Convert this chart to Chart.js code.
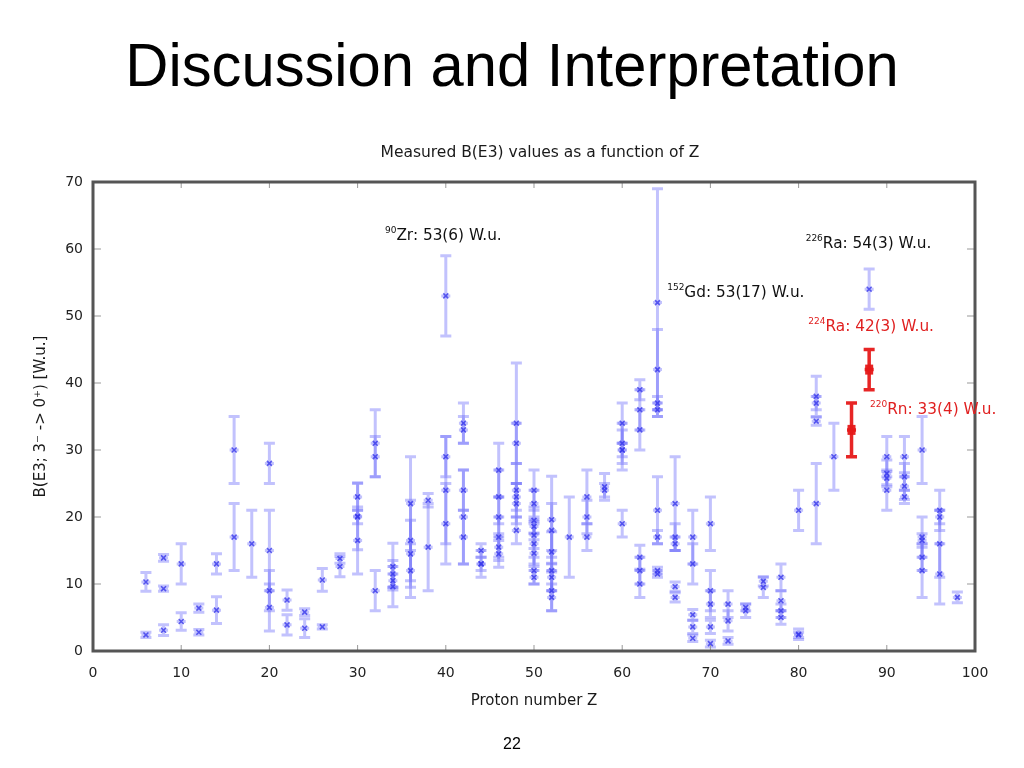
<!DOCTYPE html>
<html>
<head>
<meta charset="utf-8">
<script src="https://cdn.jsdelivr.net/npm/chart.js@4.4.0/dist/chart.umd.min.js"></script>
<style>
  body { margin: 0; background: #fff; }
  #wrap { position: relative; width: 1024px; height: 768px; overflow: hidden; }
  #slideTitle { position: absolute; left: 0; top: 29px; width: 1024px; text-align: center;
    font-family: 'Liberation Sans', Arial, sans-serif; font-size: 62px; line-height: 1.15; color: #000;
    transform: scaleX(0.963); transform-origin: 512px 0; }
  #pageNum { position: absolute; left: 0; top: 735px; width: 1024px; text-align: center;
    font-family: 'Liberation Sans', Arial, sans-serif; font-size: 16px; color: #000; }
  canvas { position: absolute; left: 0; top: 0; }
</style>
</head>
<body>
<div id="wrap">
  <canvas id="bE3Chart" width="1024" height="768"></canvas>
  <div id="slideTitle">Discussion and Interpretation</div>
  <div id="pageNum">22</div>
</div>
<script>
// measured B(E3; 3- -> 0+) values, blue points
let protonZ = [
  6, 6, 8, 8, 8, 10, 10, 12, 12, 14, 14, 16, 16, 18,
  20, 20, 20, 20, 22, 22, 24, 24, 26, 26, 28, 28,
  30, 30, 30, 30, 32, 32, 32, 34, 34, 34, 34, 36, 36, 36, 36, 38, 38,
  40, 40, 40, 40, 42, 42, 42, 42, 42, 44, 44, 44,
  46, 46, 46, 46, 46, 46, 48, 48, 48, 48, 48, 48,
  50, 50, 50, 50, 50, 50, 50, 50, 50, 52, 52, 52, 52, 52, 52, 52,
  54, 56, 56, 56, 58, 58, 60, 60, 60, 60, 60, 62, 62, 62, 62, 62, 62,
  64, 64, 64, 64, 64, 64, 64, 64, 66, 66, 66, 66, 66,
  68, 68, 68, 68, 68, 70, 70, 70, 70, 70, 72, 72, 72, 74, 74, 76, 76,
  78, 78, 78, 78, 80, 80, 80, 82, 82, 82, 82, 84, 88,
  90, 90, 90, 90, 92, 92, 92, 92, 94, 94, 94, 94, 94, 96, 96, 96, 96, 98
];
let bValue = [
  10.3, 2.4, 13.9, 9.3, 3.1, 13, 4.4, 6.4, 2.8, 13, 6.1, 30, 17, 16,
  28, 15, 9, 6.5, 7.6, 3.9, 5.8, 3.4, 10.6, 3.6, 13.8, 12.6,
  20, 20.1, 23, 16.5, 31, 29, 9, 10.5, 11.5, 9.6, 12.6, 22, 16.5, 14.5, 12, 22.5, 15.5,
  53, 29, 24, 19, 34, 33, 24, 20, 17, 13, 13, 15,
  27, 23, 20, 17, 15.5, 14.5, 34, 31, 24, 23, 22, 18,
  24, 22, 19.5, 18.6, 17.3, 16, 14.6, 12, 11, 19.6, 18, 14.8, 12, 11, 9, 8,
  17, 20, 23, 17, 24.5, 24, 34, 31, 30, 30, 19, 39, 36, 33, 14, 12, 10,
  52, 42, 37, 36, 21, 17, 12, 11.5, 22, 17, 16, 9.6, 8,
  17, 13, 5.4, 3.6, 1.9, 19, 9, 7, 3.6, 1.1, 7, 4.5, 1.5, 6, 6.5, 10.4, 9.5,
  11, 7.5, 6, 5, 21, 2.5, 2.4, 38, 37, 34.3, 22, 29, 54,
  29, 26.5, 25.8, 24, 29, 26, 24.6, 23, 30, 17, 16.5, 14, 12, 21, 20, 16, 11.5, 8
];
let bError = [
  1.4, 0.4, 0.5, 0.4, 0.8, 3, 1.3, 0.6, 0.4, 1.5, 2, 5, 5, 5,
  3, 6, 3, 3.5, 1.5, 1.5, 0.5, 1.4, 1.7, 0.3, 0.7, 1.5,
  1, 5, 2, 5, 5, 3, 3, 1, 2, 3, 3.5, 7, 6, 5, 4, 1, 6.5,
  6, 3, 8, 6, 3, 2, 3, 7, 4, 2, 1, 1,
  4, 4, 3, 3, 2, 2, 9, 3, 4, 2, 3, 2,
  3, 2, 2, 1, 2, 3, 2, 2, 1, 6.5, 4, 3, 3, 2, 3, 2,
  6, 2.5, 4, 2, 2, 1, 3, 3, 1, 3, 2, 1.5, 3, 3, 1.8, 2, 2,
  17, 6, 1, 1, 5, 1, 0.5, 0.5, 7, 2, 1, 0.7, 0.7,
  4, 3, 0.8, 1, 0.5, 4, 3, 2, 1, 0.5, 2, 1.5, 0.5, 1, 0.5, 0.7, 1.5,
  2, 1.5, 1, 1, 3, 0.8, 0.4, 3, 1, 0.6, 6, 5, 3,
  3, 2, 1, 3, 3, 2, 2, 1, 5, 3, 1, 2, 4, 3, 1, 5, 4.5, 0.8
];

// highlighted new measurements (red)
let redZ = [86, 88];
let redValue = [33, 42];
let redError = [4, 3];

// labels written next to the notable points
let noteIsotope = ['90', '226', '152', '224', '220'];
let noteText = ['Zr: 53(6) W.u.', 'Ra: 54(3) W.u.', 'Gd: 53(17) W.u.', 'Ra: 42(3) W.u.', 'Rn: 33(4) W.u.'];
let noteRed = [false, false, false, true, true];

let xTicks = [0, 10, 20, 30, 40, 50, 60, 70, 80, 90, 100];
let yTicks = [0, 10, 20, 30, 40, 50, 60, 70];

// where the labels sit, in data units
let noteAt = [[33.1, 61.4], [80.8, 60.1], [65.1, 52.9], [81.1, 47.7], [88.1, 35.4]];

const FONT = "'DejaVu Sans', sans-serif";
const chartTitle = 'Measured B(E3) values as a function of Z';

let errorBars = {
  id: 'errorBars',
  beforeDatasetsDraw(chart) {
    const ctx = chart.ctx;
    const xs = chart.scales.x, ys = chart.scales.y;
    chart.data.datasets.forEach(ds => {
      ctx.save();
      ctx.strokeStyle = ds.errColor;
      ctx.lineWidth = ds.errWidth;
      ds.data.forEach(p => {
        const x = xs.getPixelForValue(p.x);
        const y1 = ys.getPixelForValue(p.y - p.err);
        const y2 = ys.getPixelForValue(p.y + p.err);
        const ym = ys.getPixelForValue(p.y);
        ctx.beginPath();
        ctx.moveTo(x, y1); ctx.lineTo(x, y2);
        ctx.moveTo(x - 5.5, y1); ctx.lineTo(x + 5.5, y1);
        ctx.moveTo(x - 5.5, y2); ctx.lineTo(x + 5.5, y2);
        ctx.moveTo(x - 4.5, ym); ctx.lineTo(x + 4.5, ym);
        ctx.stroke();
        if (ds.box) {
          ctx.fillStyle = ds.errColor;
          ctx.fillRect(x - 4, ym - 5, 8, 10);
        }
      });
      ctx.restore();
    });
  }
};

let frame = {
  id: 'frame',
  afterDatasetsDraw(chart) {
    const ctx = chart.ctx;
    const a = chart.chartArea;
    const xs = chart.scales.x, ys = chart.scales.y;
    ctx.save();
    ctx.strokeStyle = '#999';
    ctx.lineWidth = 1;
    ctx.beginPath();
    xTicks.forEach(t => {
      const x = xs.getPixelForValue(t);
      ctx.moveTo(x, a.bottom); ctx.lineTo(x, a.bottom - 6);
      ctx.moveTo(x, a.top); ctx.lineTo(x, a.top + 6);
    });
    yTicks.forEach(t => {
      const y = ys.getPixelForValue(t);
      ctx.moveTo(a.left, y); ctx.lineTo(a.left + 8, y);
      ctx.moveTo(a.right, y); ctx.lineTo(a.right - 8, y);
    });
    ctx.stroke();
    ctx.strokeStyle = '#555';
    ctx.lineWidth = 3;
    ctx.strokeRect(a.left, a.top, a.right - a.left, a.bottom - a.top);
    ctx.restore();
  }
};

let notes = {
  id: 'notes',
  afterDraw(chart) {
    const ctx = chart.ctx;
    const a = chart.chartArea;
    const xs = chart.scales.x, ys = chart.scales.y;
    ctx.save();
    // chart title, centred a little right of the plot centre like the original
    ctx.fillStyle = '#1a1a1a';
    ctx.font = '15.5px ' + FONT;
    ctx.textAlign = 'center';
    ctx.textBaseline = 'middle';
    ctx.fillText(chartTitle, (a.left + a.right) / 2 + 6, a.top - 29);
    ctx.textAlign = 'left';
    ctx.textBaseline = 'alphabetic';
    noteText.forEach((txt, i) => {
      let x = xs.getPixelForValue(noteAt[i][0]);
      const y = ys.getPixelForValue(noteAt[i][1]);
      ctx.fillStyle = noteRed[i] ? '#e02020' : '#111';
      ctx.font = '9px ' + FONT;
      ctx.fillText(noteIsotope[i], x, y - 7);
      x += ctx.measureText(noteIsotope[i]).width;
      ctx.font = '15.3px ' + FONT;
      ctx.fillText(txt, x, y);
    });
    ctx.restore();
  }
};

new Chart(document.getElementById('bE3Chart'), {
  type: 'scatter',
  data: {
    datasets: [{
      label: 'measured',
      data: protonZ.map((z, i) => ({ x: z, y: bValue[i], err: bError[i] })),
      pointStyle: 'crossRot',
      pointRadius: 3.5,
      borderWidth: 1.6,
      borderColor: 'rgba(55,55,235,0.8)',
      backgroundColor: 'rgba(55,55,235,0.8)',
      errColor: 'rgba(110,110,250,0.42)',
      errWidth: 3
    }, {
      label: 'new',
      data: redZ.map((z, i) => ({ x: z, y: redValue[i], err: redError[i] })),
      pointRadius: 0,
      borderColor: '#e01515',
      backgroundColor: '#e01515',
      errColor: 'rgba(230,25,25,0.95)',
      errWidth: 3.5,
      box: true
    }]
  },
  options: {
    responsive: false,
    animation: false,
    layout: { padding: { left: 25, right: 49, top: 182, bottom: 57 } },
    plugins: {
      legend: { display: false },
      tooltip: { enabled: false },
      title: { display: false }
    },
    scales: {
      x: {
        type: 'linear',
        min: 0, max: 100,
        afterBuildTicks: s => { s.ticks = xTicks.map(v => ({ value: v })); },
        ticks: { font: { family: FONT, size: 14 }, color: '#222', padding: 14, maxRotation: 0 },
        grid: { display: false, drawTicks: false },
        border: { display: false },
        title: { display: true, text: 'Proton number Z', font: { family: FONT, size: 15 }, color: '#1a1a1a', padding: { top: 2, bottom: 1 } },
        afterFit: s => { s.height = 60; }
      },
      y: {
        type: 'linear',
        min: 0, max: 70,
        afterBuildTicks: s => { s.ticks = yTicks.map(v => ({ value: v })); },
        ticks: { font: { family: FONT, size: 14 }, color: '#222', padding: 10 },
        grid: { display: false, drawTicks: false },
        border: { display: false },
        title: { display: true, text: 'B(E3; 3⁻ -> 0⁺) [W.u.]', font: { family: FONT, size: 15 }, color: '#1a1a1a', padding: { top: 7, bottom: 2 } },
        afterFit: s => { s.width = 68; }
      }
    }
  },
  plugins: [errorBars, frame, notes]
});
</script>
</body>
</html>
